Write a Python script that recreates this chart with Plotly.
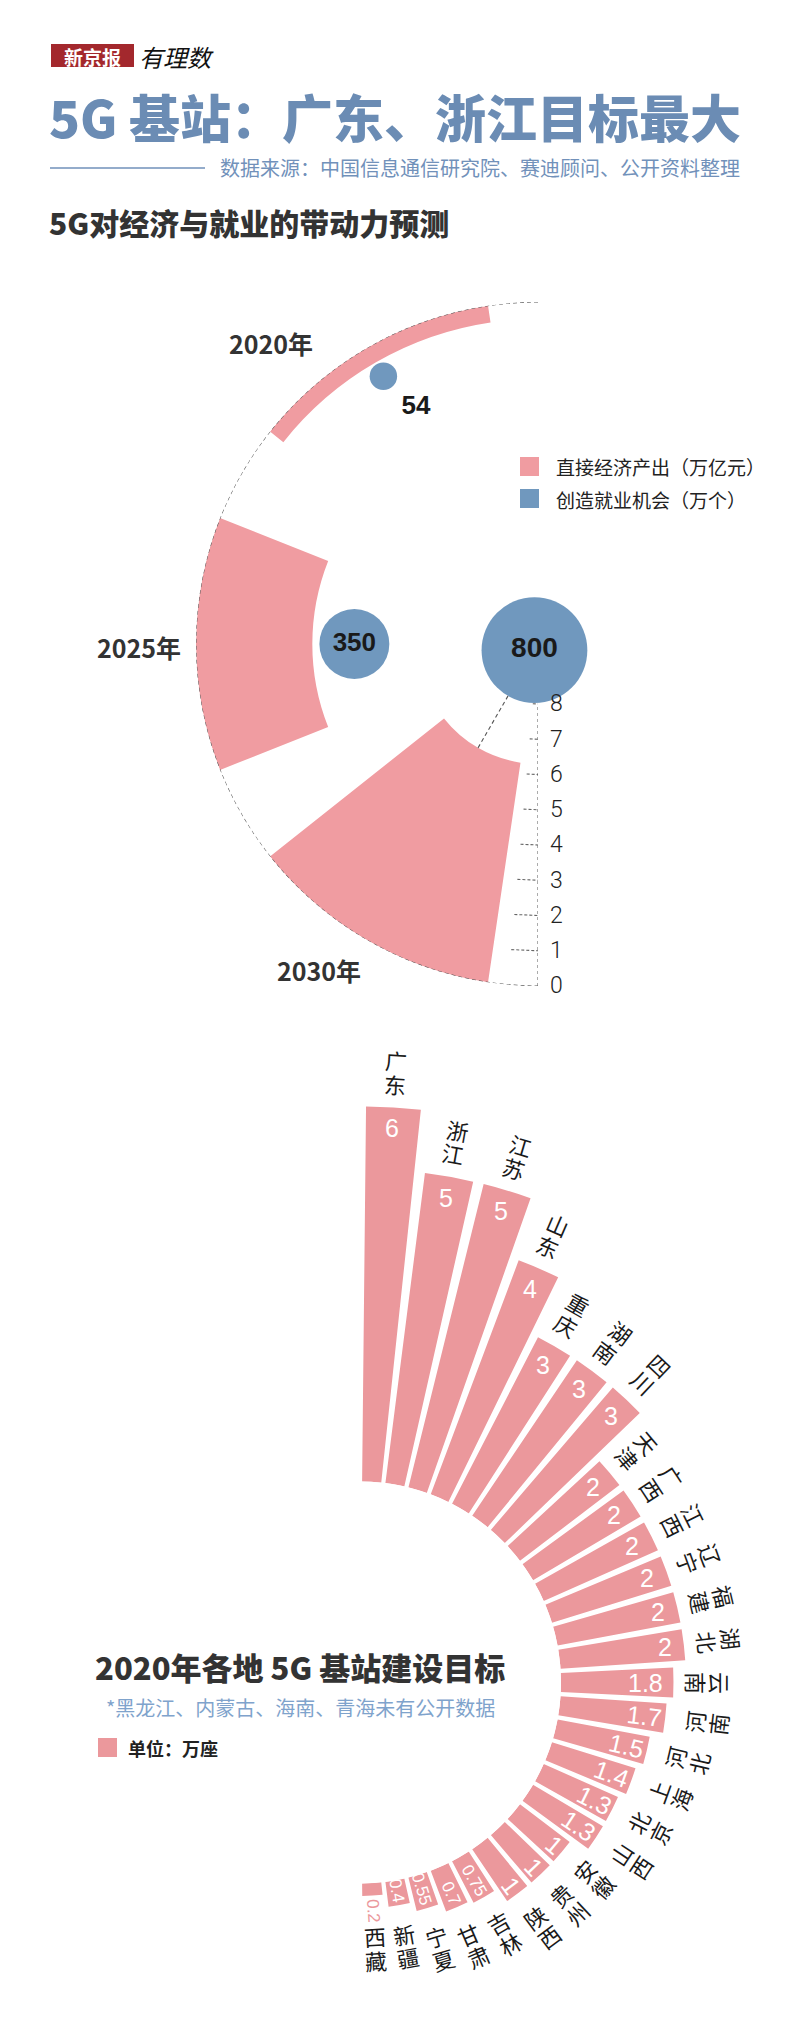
import numpy as np
import plotly.graph_objects as go

W, H = 800, 2020

# ---------------- data ----------------
years = ["2020年", "2025年", "2030年"]
output_trillion = [0.484, 3.3, 6.3]      # 直接经济产出（万亿元）
jobs_10k = [54, 350, 800]                # 创造就业机会（万个）
radial_ticks = [0, 1, 2, 3, 4, 5, 6, 7, 8]

provinces = ["广东", "浙江", "江苏", "山东", "重庆", "湖南", "四川", "天津", "广西",
             "江西", "辽宁", "福建", "湖北", "云南", "河南", "河北", "上海", "北京",
             "山西", "安徽", "贵州", "陕西", "吉林", "甘肃", "宁夏", "新疆", "西藏"]
stations = [6, 5, 5, 4, 3, 3, 3, 2, 2, 2, 2, 2, 2, 1.8, 1.7, 1.5, 1.4, 1.3, 1.3,
            1, 1, 1, 0.75, 0.7, 0.55, 0.4, 0.2]

# ---------------- styles ----------------
PINK1 = "#F09CA1"
PINK2 = "#EB989C"
BLUE = "#7098BE"
TITLE_BLUE = "#6B8CB4"
SUB_BLUE = "#7191BA"
NOTE_BLUE = "#7FA3CC"
DARK = "#333333"
CJK = "Noto Sans CJK SC"
LAT = "Liberation Sans"


def sector_bbox(sector):
    a = np.radians(np.linspace(sector[0], sector[1], 3601))
    xs = np.concatenate([np.cos(a), [0.0]])
    ys = np.concatenate([np.sin(a), [0.0]])
    return xs.min(), ys.min(), xs.max(), ys.max()


def polar_domain(cx, cy, R, sector):
    x0, y0, x1, y1 = sector_bbox(sector)
    left, right = cx + x0 * R, cx + x1 * R
    top, bottom = cy - y1 * R, cy - y0 * R
    return dict(x=[left / W, right / W], y=[1 - bottom / H, 1 - top / H])


fig = go.Figure()
annotations = []
shapes = []


def ann(x, y, text, size, color=DARK, family=CJK, xanchor="center", yanchor="middle",
        angle=0, weight=None):
    f = dict(size=size, color=color, family=family)
    if weight is not None:
        f["weight"] = weight
    annotations.append(dict(x=x / W, y=1 - y / H, xref="paper", yref="paper", text=text,
                            showarrow=False, font=f, xanchor=xanchor, yanchor=yanchor,
                            textangle=angle, align="center"))


# ======================= Chart 1 : polar (reversed radial) =======================
CX1, CY1, R1 = 538, 644, 342
PXU1 = 35.25                      # px per 万亿元
RMAX1 = R1 / PXU1                 # value at the centre
slot1 = 180 / len(years)
theta1 = [90 + (i + 0.5) * slot1 for i in range(len(years))]

fig.add_trace(go.Barpolar(r=output_trillion, theta=theta1, width=[0.72 * slot1] * 3,
                          marker=dict(color=PINK1, line=dict(width=0)),
                          subplot="polar", hoverinfo="skip"))

# outer dashed arc (value 0)
arc_t = np.linspace(90, 270, 361)
fig.add_trace(go.Scatterpolar(r=[0] * len(arc_t), theta=arc_t, mode="lines",
                              line=dict(color="#555555", width=1.1, dash="4px,3px"),
                              subplot="polar", cliponaxis=False, hoverinfo="skip"))
# radial axis dashed line 0 -> 8
fig.add_trace(go.Scatterpolar(r=[radial_ticks[0], radial_ticks[-1]], theta=[270, 270],
                              mode="lines", line=dict(color="#666666", width=1.1, dash="3px,3px"),
                              subplot="polar", cliponaxis=False, hoverinfo="skip"))
# short dashed tick arcs
tr, tt = [], []
for t in radial_ticks[1:]:
    tr += [t, t, None]
    tt += [265, 270, None]
fig.add_trace(go.Scatterpolar(r=tr, theta=tt, mode="lines",
                              line=dict(color="#666666", width=1.1, dash="3px,2px"),
                              subplot="polar", cliponaxis=False, hoverinfo="skip"))

# bubbles (area ∝ jobs), sitting just inside their value on the radial scale
bub_rad = [1.87 * np.sqrt(j) for j in jobs_10k]
bub_r = [j / 100 + rp / PXU1 for j, rp in zip(jobs_10k, bub_rad)]
# dashed connector 2030 bar -> bubble
fig.add_trace(go.Scatterpolar(r=[output_trillion[2], bub_r[2]], theta=[theta1[2], theta1[2]],
                              mode="lines", line=dict(color="#555555", width=1.1, dash="4px,3px"),
                              subplot="polar", cliponaxis=False, hoverinfo="skip"))
fig.add_trace(go.Scatterpolar(r=bub_r, theta=theta1, mode="markers+text",
                              marker=dict(size=[2 * b for b in bub_rad], color=BLUE,
                                          line=dict(width=0), opacity=1),
                              text=[str(j) for j in jobs_10k],
                              textposition=["bottom right", "middle center", "middle center"],
                              textfont=dict(family=LAT, size=[26, 26, 28], color="#1a1a1a",
                                            weight="bold"),
                              subplot="polar", cliponaxis=False, hoverinfo="skip"))

polar1 = dict(
    domain=polar_domain(CX1, CY1, R1, [90, 270]),
    sector=[90, 270],
    hole=0,
    bgcolor="rgba(0,0,0,0)",
    angularaxis=dict(direction="counterclockwise", rotation=0, visible=False,
                     showgrid=False, showline=False),
    radialaxis=dict(range=[RMAX1, 0], angle=270, tickvals=radial_ticks,
                    ticktext=[str(t) for t in radial_ticks], showline=False, showgrid=False,
                    ticks="outside", ticklen=7, tickcolor="rgba(0,0,0,0)",
                    side="counterclockwise", tickangle=-90,
                    tickfont=dict(family="Roboto", size=23, color="#222222", weight=300)),
)

# year labels
ann(271, 343, "<b>2020年</b>", 25)
ann(139, 647, "<b>2025年</b>", 25)
ann(319, 970, "<b>2030年</b>", 25)

# legend chart 1
shapes.append(dict(type="rect", xref="paper", yref="paper", x0=520 / W, x1=539 / W,
                   y0=1 - 476 / H, y1=1 - 457 / H, fillcolor=PINK1, line=dict(width=0)))
shapes.append(dict(type="rect", xref="paper", yref="paper", x0=520 / W, x1=539 / W,
                   y0=1 - 508 / H, y1=1 - 489 / H, fillcolor=BLUE, line=dict(width=0)))
ann(554, 467, "直接经济产出（万亿元）", 19, color="#222222", xanchor="left")
ann(554, 499, "创造就业机会（万个）", 19, color="#222222", xanchor="left")

# ======================= Chart 2 : radial bars =======================
CX2, CY2 = 360, 1682.5
R0 = 201                # px of the zero ring
PXU2 = 62.5             # px per 万座
n = len(provinces)
slot2 = 180 / n
theta2 = [90 - (i + 0.5) * slot2 for i in range(n)]
split = 90 - 7 * slot2  # boundary between the two sub-polars
idxA = [i for i in range(n) if theta2[i] > split]
idxB = [i for i in range(n) if theta2[i] <= split]

MA = max(stations[i] for i in idxA) * 1.05
MB = max(stations[i] for i in idxB) * 1.05
RA = R0 + PXU2 * MA
RB = R0 + PXU2 * MB

for sub, idx in (("polar2", idxA), ("polar3", idxB)):
    fig.add_trace(go.Barpolar(r=[stations[i] for i in idx], theta=[theta2[i] for i in idx],
                              width=[0.82 * slot2] * len(idx),
                              marker=dict(color=PINK2, line=dict(width=0)),
                              subplot=sub, hoverinfo="skip"))


def hidden_polar(R, sector, rmax):
    return dict(domain=polar_domain(CX2, CY2, R, sector), sector=sector, hole=R0 / R,
                bgcolor="rgba(0,0,0,0)",
                angularaxis=dict(direction="counterclockwise", rotation=0, visible=False),
                radialaxis=dict(range=[0, rmax], visible=False))


polar2 = hidden_polar(RA, [split, 90], MA)
polar3 = hidden_polar(RB, [-90, split], MB)


def p2(rpx, ang):
    a = np.radians(ang)
    return CX2 + rpx * np.cos(a), CY2 - rpx * np.sin(a)


CH_SIZE = 22
CH_STEP = 24
for i, (name, v) in enumerate(zip(provinces, stations)):
    ang = theta2[i]
    a = np.radians(ang)
    bar_end = R0 + v * PXU2
    txt = f"{v:g}"
    fs = 25 if v >= 1 else 17
    tw = sum(0.278 if c == "." else 0.556 for c in txt) * fs
    th = 0.72 * fs
    if ang >= 0:
        rot = 0
        ext = 0.5 * (abs(np.cos(a)) * tw + abs(np.sin(a)) * th)
        gap = 11
    else:
        rot = -ang
        ext = tw / 2
        gap = 3
    inside = tw <= v * PXU2 + 2
    if inside:
        rc = bar_end - gap - ext
        col = "#ffffff"
        outer = bar_end
    else:
        rc = bar_end + 4 + ext
        col = PINK2
        outer = bar_end + 4 + 2 * ext
    x, y = p2(rc, ang)
    ann(x, y, txt, fs, color=col, family=LAT, angle=rot)

    # province label: characters stacked along the radius
    if ang >= 0:
        lrot = 90 - ang
        off = 36
        sgn = 1      # first character outermost
    else:
        lrot = -90 - ang
        off = 41 if inside else 25
        sgn = -1     # first character innermost
    rcen = outer + off
    k = len(name)
    for j, ch in enumerate(name):
        rj = rcen + sgn * ((k - 1) / 2 - j) * CH_STEP
        x, y = p2(rj, ang)
        ann(x, y, ch, CH_SIZE, color="#1a1a1a", angle=lrot)

# chart 2 titles
ann(93, 1666, "2020年各地 5G 基站建设目标", 31, xanchor="left", weight=800)
ann(104, 1707, "*黑龙江、内蒙古、海南、青海未有公开数据", 20, color=NOTE_BLUE, xanchor="left")
shapes.append(dict(type="rect", xref="paper", yref="paper", x0=98 / W, x1=117 / W,
                   y0=1 - 1757 / H, y1=1 - 1738 / H, fillcolor=PINK2, line=dict(width=0)))
ann(126, 1748, "<b>单位：万座</b>", 18, color="#222222", xanchor="left")

# ======================= Header =======================
shapes.append(dict(type="rect", xref="paper", yref="paper", x0=51 / W, x1=134 / W,
                   y0=1 - 67 / H, y1=1 - 44 / H, fillcolor="#A3282D", line=dict(width=0)))
ann(92.5, 56, "<b>新京报</b>", 19, color="#ffffff")
annotations.append(dict(x=137 / W, y=1 - 56 / H, xref="paper", yref="paper",
                        text="<i>有理数</i>", showarrow=False, xanchor="left", yanchor="middle",
                        font=dict(size=24, color="#111111", family=CJK)))
ann(47, 116, "5G 基站：广东、浙江目标最大", 51, color=TITLE_BLUE, xanchor="left", weight=900)
shapes.append(dict(type="line", xref="paper", yref="paper", x0=50 / W, x1=205 / W,
                   y0=1 - 168 / H, y1=1 - 168 / H, line=dict(color=SUB_BLUE, width=1.5)))
ann(218, 168, "数据来源：中国信息通信研究院、赛迪顾问、公开资料整理", 20, color=SUB_BLUE,
    xanchor="left")
ann(47, 222, "5G对经济与就业的带动力预测", 30, xanchor="left", weight=800)

fig.update_layout(
    width=W, height=H, autosize=False,
    margin=dict(l=0, r=0, t=0, b=0, pad=0),
    paper_bgcolor="#ffffff", plot_bgcolor="#ffffff",
    showlegend=False, hovermode=False,
    font=dict(family=CJK, color=DARK),
    polar=polar1, polar2=polar2, polar3=polar3,
    annotations=annotations, shapes=shapes,
)

fig.write_html("out.html")
